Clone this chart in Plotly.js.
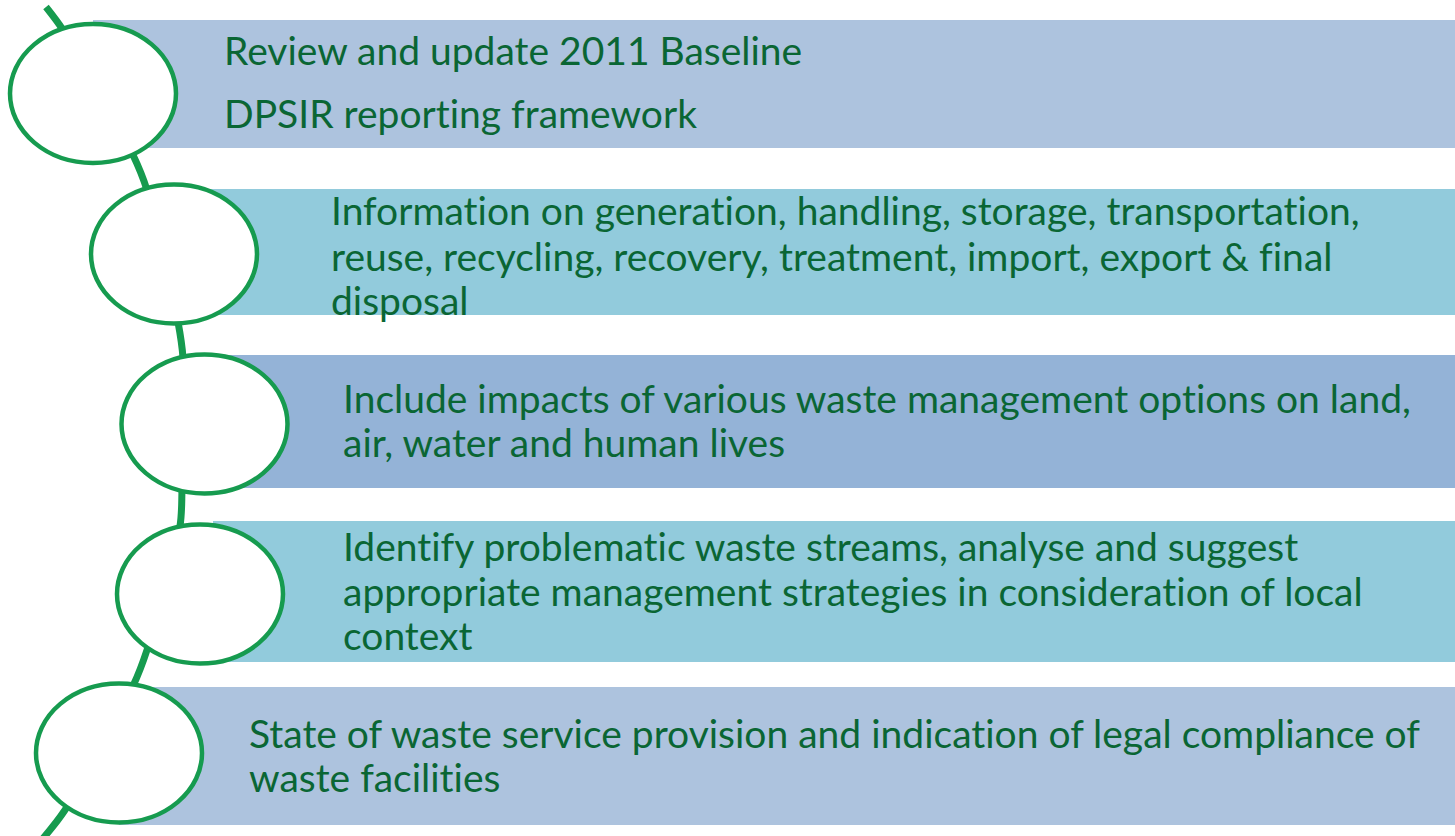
<!DOCTYPE html>
<html>
<head>
<meta charset="utf-8">
<script src="https://cdn.plot.ly/plotly-3.0.1.min.js"></script>
<style>html,body{margin:0;padding:0;background:#fff;}#chart{width:1455px;height:836px;}
svg text{font-variant-ligatures:none;font-feature-settings:"liga" 0,"clig" 0;}</style>
</head>
<body>
<div id="chart"></div>
<script>
// Items (text lines per step)
var stepLines = [
  ["Review and update 2011 Baseline", "DPSIR reporting framework"],
  ["Information on generation, handling, storage, transportation,", "reuse, recycling, recovery, treatment, import, export & final", "disposal"],
  ["Include impacts of various waste management options on land,", "air, water and human lives"],
  ["Identify problematic waste streams, analyse and suggest", "appropriate management strategies in consideration of local", "context"],
  ["State of waste service provision and indication of legal compliance of", "waste facilities"]
];
var barColors = ["#adc3de", "#92cbdc", "#94b3d7", "#92cbdc", "#adc3de"];

// layout geometry (pixel-like units on hidden axes)
var barTop    = [20, 189, 355, 521, 687];
var barBottom = [148, 315, 488, 662, 825];
var barLeft   = [93, 174, 204, 213, 119];
var barRight  = 1455;
var circCx = [93, 174, 204.5, 200, 119];
var circCy = [93.5, 254, 424, 594, 753];
var circRx = 83, circRy = 69.5;
var textLeft = [222, 329, 341, 341, 247];
var lineY = [[50, 113], [210, 256, 300], [398, 442], [546, 591, 635], [733, 777]];
var arcX = [46, 63, 133, 147, 178, 183, 182, 180, 147, 133, 65, 40];
var arcY = [7, 30, 155, 190, 322, 358, 490, 526, 650, 686, 810, 842];

var green = "#169b4f";
var textColor = "#0a6634";

var shapes = [];
for (var i = 0; i < stepLines.length; i++) {
  shapes.push({type: "rect", xref: "x", yref: "y", layer: "below",
    x0: barLeft[i], x1: barRight, y0: barTop[i], y1: barBottom[i],
    fillcolor: barColors[i], line: {width: 0}});
}
for (var i = 0; i < stepLines.length; i++) {
  shapes.push({type: "circle", xref: "x", yref: "y", layer: "above",
    x0: circCx[i] - circRx, x1: circCx[i] + circRx,
    y0: circCy[i] - circRy, y1: circCy[i] + circRy,
    fillcolor: "#ffffff", line: {color: green, width: 4.5}});
}

var annotations = [];
for (var i = 0; i < stepLines.length; i++) {
  for (var j = 0; j < stepLines[i].length; j++) {
    annotations.push({xref: "x", yref: "y", x: textLeft[i], y: lineY[i][j],
      xanchor: "left", yanchor: "middle", showarrow: false,
      text: stepLines[i][j],
      font: {family: "Lato, 'Open Sans', sans-serif", size: 39, color: textColor}});
  }
}

var traces = [{
  x: arcX, y: arcY, type: "scatter", mode: "lines",
  line: {color: green, width: 7, shape: "spline", smoothing: 0.8},
  hoverinfo: "skip", showlegend: false, cliponaxis: true
}];

var layout = {
  width: 1455, height: 836,
  margin: {l: 0, r: 0, t: 0, b: 0},
  paper_bgcolor: "#ffffff", plot_bgcolor: "#ffffff",
  xaxis: {range: [0, 1455], visible: false, fixedrange: true},
  yaxis: {range: [836, 0], visible: false, fixedrange: true},
  shapes: shapes, annotations: annotations, showlegend: false
};

Plotly.newPlot("chart", traces, layout, {displayModeBar: false, staticPlot: true});
</script>
</body>
</html>
